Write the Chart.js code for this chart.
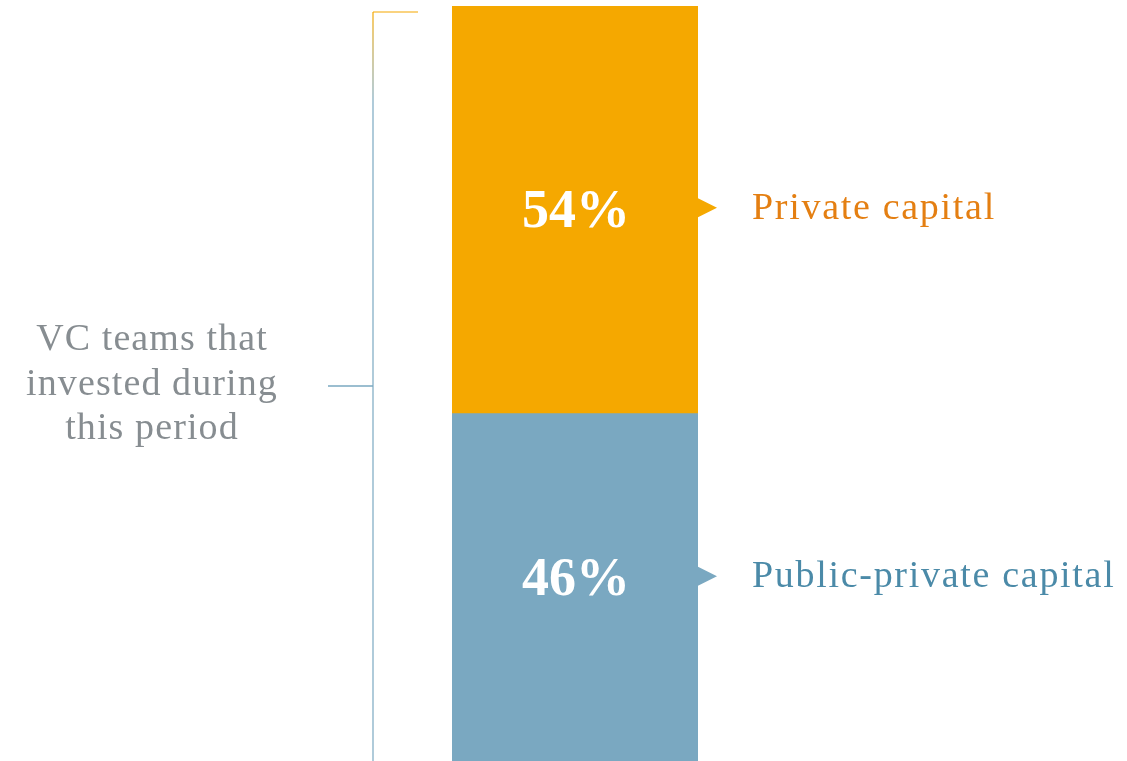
<!DOCTYPE html>
<html>
<head>
<meta charset="utf-8">
<script src="https://cdn.jsdelivr.net/npm/chart.js@4.4.0/dist/chart.umd.min.js"></script>
<style>
  html, body { margin: 0; padding: 0; background: #fff; overflow: hidden; }
  #wrap { width: 1127px; height: 761px; }
</style>
</head>
<body>
<div id="wrap"><canvas id="chart" width="1127" height="761"></canvas></div>
<script>
// Single stacked bar: share of VC teams by capital type
const categories = ['VC teams that invested during this period'];
const seriesNames = ['Public-private capital', 'Private capital'];
const publicPrivate = [46];
const privateCap = [54];
const groupLabel = ['VC teams that', 'invested during', 'this period'];

const ORANGE = '#f5a800';
const BLUE = '#7aa8c1';
const ORANGE_TEXT = '#e47f12';
const BLUE_TEXT = '#4b8aa8';
const GREY_TEXT = '#878d91';
const SERIF = '"Liberation Serif", "DejaVu Serif", serif';

// label rows sit a little above the middle of each segment
const rowOffset = [-11, -2];

// Draws the percentages, the arrow markers, the series names and the bracket
const annotate = {
  id: 'annotate',
  afterDatasetsDraw(chart) {
    const ctx = chart.ctx;
    const area = chart.chartArea;
    const textColors = [BLUE_TEXT, ORANGE_TEXT];
    ctx.save();

    chart.data.datasets.forEach((ds, i) => {
      const bar = chart.getDatasetMeta(i).data[0];
      const top = Math.min(bar.y, bar.base);
      const bottom = Math.max(bar.y, bar.base);
      const cy = (top + bottom) / 2 + rowOffset[i];
      const right = bar.x + bar.width / 2;

      // value label inside the bar
      ctx.fillStyle = '#ffffff';
      ctx.font = '600 54px ' + SERIF;
      ctx.textAlign = 'center';
      ctx.textBaseline = 'alphabetic';
      ctx.letterSpacing = '0px';
      ctx.fillText(ds.data[0] + '%', bar.x + 1, cy + 19);

      // arrow marker on the bar's right edge
      ctx.fillStyle = ds.backgroundColor;
      ctx.beginPath();
      ctx.moveTo(right - 1, cy - 10);
      ctx.lineTo(right + 19, cy);
      ctx.lineTo(right - 1, cy + 10);
      ctx.closePath();
      ctx.fill();

      // series name
      ctx.fillStyle = textColors[i];
      ctx.font = '38px ' + SERIF;
      ctx.textAlign = 'left';
      ctx.letterSpacing = '1.7px';
      ctx.fillText(ds.label, right + 54, cy + 11);
    });

    // bracket on the left of the bar
    const bx = area.left - 79;
    const topY = area.top + 6;
    const grad = ctx.createLinearGradient(0, topY, 0, area.bottom);
    grad.addColorStop(0, ORANGE);
    grad.addColorStop(0.12, BLUE);
    grad.addColorStop(1, BLUE);
    ctx.strokeStyle = grad;
    ctx.lineWidth = 1.2;
    ctx.beginPath();
    ctx.moveTo(bx, area.bottom);
    ctx.lineTo(bx, topY);
    ctx.stroke();
    ctx.strokeStyle = ORANGE;
    ctx.beginPath();
    ctx.moveTo(bx, topY);
    ctx.lineTo(bx + 45, topY);
    ctx.stroke();
    ctx.strokeStyle = BLUE;
    ctx.lineWidth = 1.5;
    ctx.beginPath();
    ctx.moveTo(bx - 45, 386);
    ctx.lineTo(bx, 386);
    ctx.stroke();

    // group label
    ctx.fillStyle = GREY_TEXT;
    ctx.font = '38px ' + SERIF;
    ctx.textAlign = 'center';
    ctx.letterSpacing = '1.1px';
    groupLabel.forEach((line, k) => {
      ctx.fillText(line, 152, 350 + k * 44.5);
    });

    ctx.restore();
  }
};

new Chart(document.getElementById('chart'), {
  type: 'bar',
  data: {
    labels: categories,
    datasets: [
      { label: seriesNames[0], data: publicPrivate, backgroundColor: BLUE },
      { label: seriesNames[1], data: privateCap, backgroundColor: ORANGE }
    ]
  },
  options: {
    responsive: false,
    animation: false,
    devicePixelRatio: 1,
    layout: { padding: { left: 452, right: 429, top: 6, bottom: 0 } },
    datasets: { bar: { barPercentage: 1, categoryPercentage: 1, borderWidth: 0 } },
    scales: {
      x: { stacked: true, display: false },
      y: { stacked: true, display: false, min: 0, max: 100 }
    },
    plugins: {
      legend: { display: false },
      tooltip: { enabled: false }
    }
  },
  plugins: [annotate]
});
</script>
</body>
</html>
